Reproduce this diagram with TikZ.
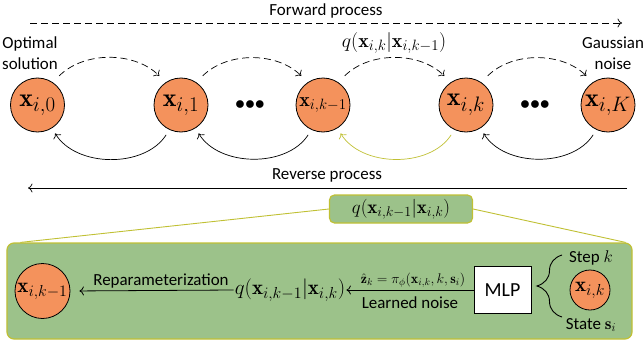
\RequirePackage{fix-cm}
\documentclass[tikz,border=0pt]{standalone}
\usepackage{fontspec}
\setsansfont{Carlito}
\usetikzlibrary{arrows.meta,decorations.pathreplacing,calc}
\DeclareMathSizes{26}{26}{21}{16}
\DeclareMathSizes{20}{20}{15}{11}
\DeclareMathSizes{19}{19}{14}{10}
\DeclareMathSizes{21}{21}{16}{12}
\DeclareMathSizes{14}{14}{10}{7}
\DeclareMathSizes{17}{17}{12}{9}
\definecolor{nodeor}{RGB}{244,146,92}
\definecolor{pangreen}{RGB}{156,194,138}
\definecolor{olivey}{RGB}{192,192,52}
\newcommand\szA{\fontsize{26}{30}\selectfont}
\newcommand\szB{\fontsize{20}{24}\selectfont}
\newcommand\szC{\fontsize{19}{23}\selectfont}
\newcommand\szD{\fontsize{21}{25}\selectfont}
\newcommand\szE{\fontsize{14}{17}\selectfont}
\newcommand\szT{\sffamily\fontsize{17}{21}\selectfont}
\begin{document}
\begin{tikzpicture}[x=1bp,y=1bp,>={To[length=4.5bp,width=9bp]},
  every node/.style={font=\szT,inner sep=1bp},
  st/.style={circle,draw=black,fill=nodeor,line width=0.8bp,inner sep=0pt,minimum size=54bp},
  fwd/.style={->,dash pattern=on 7bp off 4bp,line width=0.7bp,shorten <=9bp,shorten >=9bp},
  rev/.style={->,line width=0.7bp,shorten <=6bp,shorten >=6bp},
  qbox/.style={draw=olivey,fill=pangreen,rounded corners=5bp,line width=1.2bp,minimum width=143bp,minimum height=28bp},
  panel/.style={draw=olivey,fill=pangreen,rounded corners=7bp,line width=1.2bp,minimum width=625bp,minimum height=96bp},
  zoomline/.style={olivey,line width=0.9bp}]
\useasboundingbox (0,0) rectangle (644,348);
% top
\node (fwdtxt) at (326,337) {Forward process};
\coordinate (fs) at (30,325);
\coordinate (fe) at (622,325);
\draw[->,dash pattern=on 7bp off 4bp,line width=0.7bp] (fs) -- (fe);
\node[align=center] (opt) at (30,295) {Optimal\\solution};
\node[align=center] (gn) at (613,295) {Gaussian\\noise};
\node[st,font=\szA] (c0) at (37.5,243) {$\mathbf{x}_{i,0}$};
\node[st,font=\szA] (c1) at (181,243) {$\mathbf{x}_{i,1}$};
\node[st,font=\szB] (ck1) at (323,243) {$\mathbf{x}_{i,k-1}$};
\node[st,font=\szA] (ck) at (466,243) {$\mathbf{x}_{i,k}$};
\node[st,font=\szA] (cK) at (608,243) {$\mathbf{x}_{i,K}$};
\node[font=\szB] (d1) at (250,243) {${\bullet}{\bullet}{\bullet}$};
\node[font=\szB] (d2) at (535,243) {${\bullet}{\bullet}{\bullet}$};
\draw[fwd] (c0.56) to[bend left=45] (c1.124);
\draw[fwd] (c1.56) to[bend left=45] (ck1.124);
\draw[fwd] (ck1.56) to[bend left=45] (ck.124);
\draw[fwd] (ck.56) to[bend left=45] (cK.124);
\draw[rev] (c1.-115) to[bend left=58] (c0.-58);
\draw[rev] (ck1.-115) to[bend left=58] (c1.-58);
\draw[rev,olivey] (ck.-115) to[bend left=58] (ck1.-58);
\draw[rev] (cK.-115) to[bend left=58] (ck.-58);
\node[font=\szB] (qf) at (394,305) {$q(\mathbf{x}_{i,k}|\mathbf{x}_{i,k-1})$};
\node (revtxt) at (327,173) {Reverse process};
\coordinate (rs) at (627,160);
\coordinate (re) at (28,160);
\draw[->,line width=0.7bp] (rs) -- (re);
% bottom
\node[panel] (pn) at (319.5,57) {};
\node[qbox,font=\szC] (qb) at (401,139) {$q(\mathbf{x}_{i,k-1}|\mathbf{x}_{i,k})$};
\draw[zoomline] (qb.west) -- ([xshift=14bp]pn.north west);
\draw[zoomline] (qb.east) -- ([xshift=-7bp]pn.north east);
\node[st,font=\szD,minimum size=55bp] (lc) at (42.5,57) {$\mathbf{x}_{i,k-1}$};
\node[font=\szD] (qp) at (290,58) {$q(\mathbf{x}_{i,k-1}|\mathbf{x}_{i,k})$};
\draw[->,line width=0.8bp,shorten >=9bp] (qp.west) -- (lc.east)
  node[midway,above=1bp,xshift=9bp] (rp) {Reparameterization};
\node[draw,fill=white,line width=0.9bp,minimum width=57bp,minimum height=47bp,
  font=\sffamily\fontsize{20}{24}\selectfont] (mlp) at (502.5,58) {MLP};
\draw[->,line width=0.8bp] (mlp.west) -- (qp.east);
\node[font=\szE] (zl) at (413,68) {$\hat{\mathbf{z}}_k=\pi_\phi(\mathbf{x}_{i,k},k,\mathbf{s}_i)$};
\node (ln) at (410,45) {Learned noise};
\coordinate (bb) at (562,31);
\coordinate (bt) at (562,93);
\draw[line width=0.9bp,decorate,decoration={brace,amplitude=25bp}] (bb) -- (bt);
\node (stp) at (591,90) {Step $k$};
\node (sta) at (591,23) {State $\mathbf{s}_i$};
\node[st,minimum size=40bp,font=\szD] (sc) at (590,58) {$\mathbf{x}_{i,k}$};
\end{tikzpicture}
\end{document}
